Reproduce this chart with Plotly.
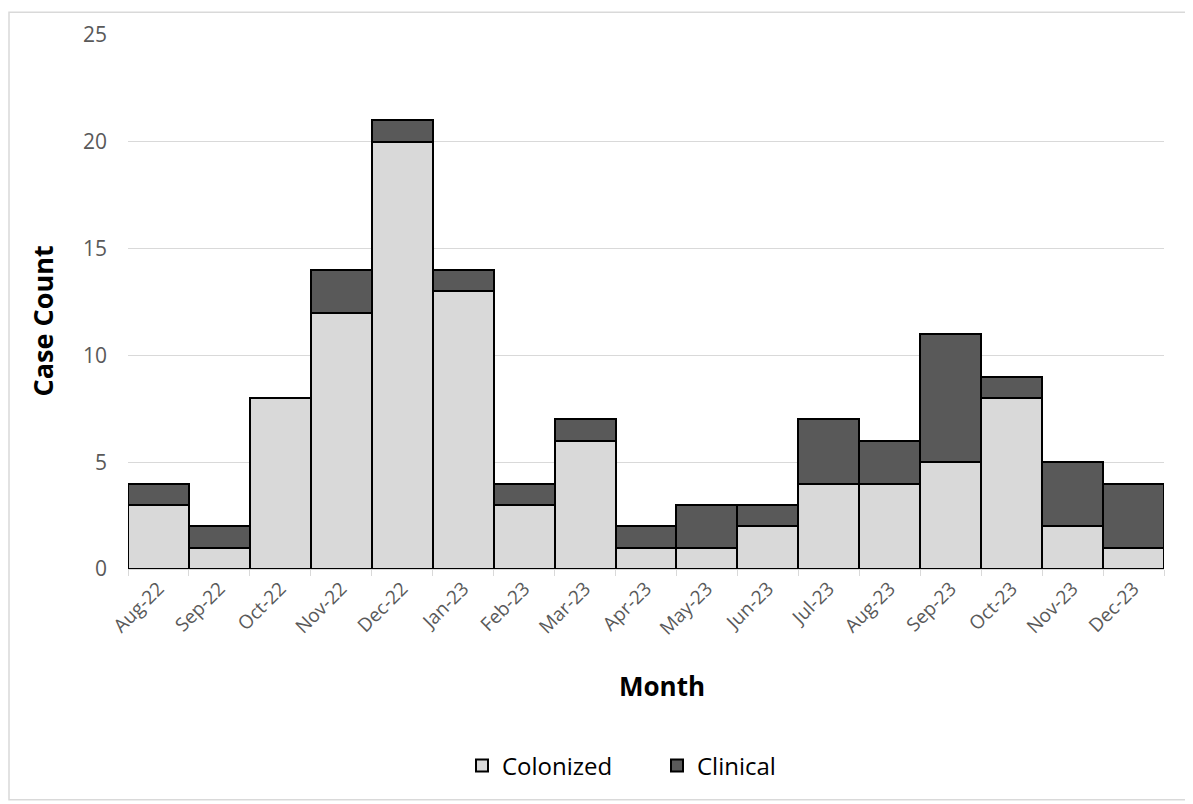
import plotly.graph_objects as go

months = ["Aug-22", "Sep-22", "Oct-22", "Nov-22", "Dec-22", "Jan-23", "Feb-23", "Mar-23",
          "Apr-23", "May-23", "Jun-23", "Jul-23", "Aug-23", "Sep-23", "Oct-23", "Nov-23", "Dec-23"]
colonized = [3, 1, 8, 12, 20, 13, 3, 6, 1, 1, 2, 4, 4, 5, 8, 2, 1]
clinical = [1, 1, 0, 2, 1, 1, 1, 1, 1, 2, 1, 3, 2, 6, 1, 3, 3]
y_ticks = [0, 5, 10, 15, 20, 25]

FONT = "Open Sans, Liberation Sans, sans-serif"

W, H = 1185, 796
L, R, T, B = 120, 29, 24, 235
PW, PH = W - L - R, H - T - B

fig = go.Figure()
fig.add_trace(go.Bar(x=months, y=colonized, name="Colonized",
                     marker=dict(color="#D9D9D9", line=dict(color="black", width=2))))
fig.add_trace(go.Bar(x=months, y=clinical, name="Clinical",
                     marker=dict(color="#595959", line=dict(color="black", width=2))))

fig.update_layout(
    width=W, height=H,
    barmode="stack", bargap=0,
    paper_bgcolor="white", plot_bgcolor="white",
    margin=dict(l=L, r=R, t=T, b=B),
    font=dict(family=FONT, color="#595959"),
    showlegend=True,
    legend=dict(orientation="h", x=(462 - 128) / PW, xanchor="left", y=-198 / PH, yanchor="middle",
                font=dict(size=24, color="black"), traceorder="normal",
                entrywidth=150, entrywidthmode="pixels"),
    xaxis=dict(tickangle=-45, tickfont=dict(size=19, color="#595959"),
               showline=True, linecolor="#D9D9D9", linewidth=1,
               ticks="outside", tickson="boundaries", ticklen=6, tickcolor="#D9D9D9",
               showgrid=False),
    yaxis=dict(range=[0, 25], tickvals=y_ticks, tickfont=dict(size=21, color="#595959"),
               showgrid=True, gridcolor="#D9D9D9", gridwidth=1, zeroline=False,
               ticks="", ticklabelstandoff=20),
    annotations=[
        dict(text="<b>Month</b>", x=(662 - 128) / PW, y=-118 / PH, xref="paper", yref="paper",
             yanchor="middle", showarrow=False, font=dict(size=26, color="black", family=FONT)),
        dict(text="<b>Case Count</b>", x=-86 / PW, y=(569 - 320) / PH, xref="paper", yref="paper",
             xanchor="center", yanchor="middle", textangle=-90, showarrow=False,
             font=dict(size=27, color="black", family=FONT)),
    ],
    shapes=[dict(type="rect", xref="paper", yref="paper",
                 x0=-(L - 1) / PW, x1=1 + (R - 2) / PW, y0=-(B - 3) / PH, y1=1 + (T - 1) / PH,
                 line=dict(color="#D9D9D9", width=1.5))],
)

fig.write_html("out.html")
